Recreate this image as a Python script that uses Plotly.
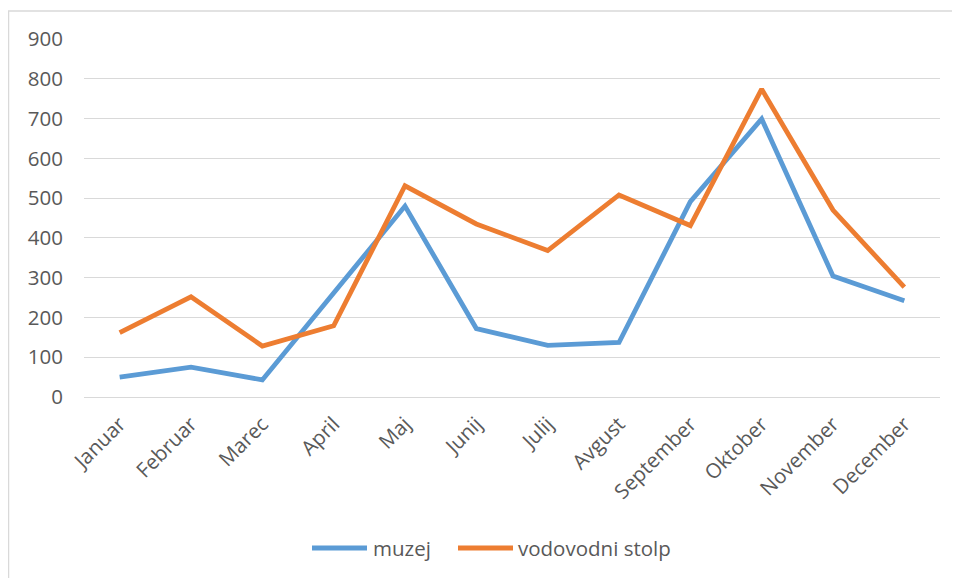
import plotly.graph_objects as go

months = ["Januar", "Februar", "Marec", "April", "Maj", "Junij", "Julij",
          "Avgust", "September", "Oktober", "November", "December"]
muzej = [50, 75, 43, 262, 480, 172, 130, 137, 491, 699, 304, 242]
vodovodni_stolp = [162, 252, 128, 179, 531, 435, 368, 508, 431, 774, 470, 276]
y_ticks = [0, 100, 200, 300, 400, 500, 600, 700, 800, 900]
series_names = ["muzej", "vodovodni stolp"]
series_colors = ["#5B9BD5", "#ED7D31"]

FONT = "Open Sans, Calibri, sans-serif"
GREY = "#595959"
FS = 20.5
LW = 4.8

fig = go.Figure()
for name, vals, col in zip(series_names, [muzej, vodovodni_stolp], series_colors):
    fig.add_trace(go.Scatter(x=months, y=vals, mode="lines", name=name,
                             line=dict(color=col, width=LW), showlegend=False))

OFF = 8  # page body margin
W, H = 952, 570
# absolute target plot area: x 84..940, y 39..397
L = 84 - OFF
T = 39 - OFF
R = W - (940 - OFF)
B = H - (397 - OFF)
pw, ph = W - L - R, H - T - B

def px(x):
    return (x - OFF - L) / pw

def py(y):
    return (H - B - (y - OFF)) / ph

fig.add_shape(type="rect", xref="paper", yref="paper",
              x0=px(8.5), x1=px(975), y0=py(600), y1=py(11),
              line=dict(color="#d9d9d9", width=1.5), fillcolor="rgba(0,0,0,0)",
              layer="below")

# legend drawn below the plot (Excel-style long line samples)
legend_y = 548
legend_items = [(312, 367, 371), (458, 513, 516)]
for (x0, x1, xt), name, col in zip(legend_items, series_names, series_colors):
    fig.add_shape(type="line", xref="paper", yref="paper",
                  x0=px(x0), x1=px(x1), y0=py(legend_y), y1=py(legend_y),
                  line=dict(color=col, width=LW))
    fig.add_annotation(xref="paper", yref="paper", x=px(xt), y=py(legend_y),
                       text=name, showarrow=False, xanchor="left", yanchor="middle",
                       font=dict(family=FONT, size=FS, color=GREY))

fig.update_layout(
    width=W, height=H,
    margin=dict(l=L, r=R, t=T, b=B, pad=0),
    paper_bgcolor="white", plot_bgcolor="white",
    font=dict(family=FONT, size=FS, color=GREY),
    showlegend=False,
    xaxis=dict(type="category", range=[-0.5, 11.5], showgrid=False,
               showline=True, linecolor="#d9d9d9", linewidth=1,
               ticks="", tickangle=-45, ticklabelstandoff=6,
               tickfont=dict(family=FONT, size=FS, color=GREY)),
    yaxis=dict(range=[0, 900], tickvals=y_ticks, showgrid=True,
               gridcolor="#d9d9d9", gridwidth=1, zeroline=False,
               showline=False, ticks="", ticklabelstandoff=20,
               tickfont=dict(family=FONT, size=FS, color=GREY)),
)

fig.write_html("out.html")
